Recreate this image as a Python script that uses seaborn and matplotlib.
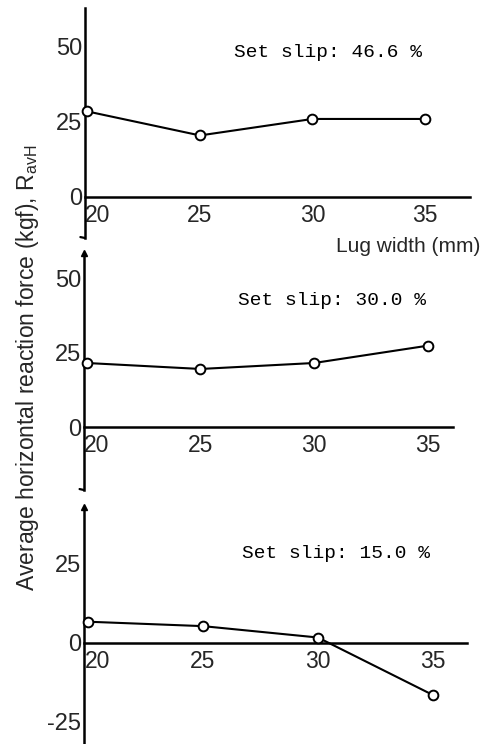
import matplotlib
matplotlib.use("Agg")
import matplotlib.pyplot as plt
import matplotlib.transforms as mtransforms
import seaborn as sns
import pandas as pd

# ---- data ----
lug_width = [20, 25, 30, 35]
force_slip_466 = [28.5, 20.5, 26.0, 26.0]
force_slip_300 = [21.5, 19.5, 21.5, 27.3]
force_slip_150 = [6.7, 5.3, 1.7, -16.5]
slip_labels = ["Set slip: 46.6 %", "Set slip: 30.0 %", "Set slip: 15.0 %"]
x_ticks = [20, 25, 30, 35]
y_ticks_top = [0, 25, 50]
y_ticks_mid = [0, 25, 50]
y_ticks_bot = [-25, 0, 25]

sns.set_style("white")
SANS = ["Liberation Sans", "DejaVu Sans"]
MONO = ["Liberation Mono", "DejaVu Sans Mono"]
plt.rcParams["font.family"] = SANS
plt.rcParams["mathtext.fontset"] = "custom"
plt.rcParams["mathtext.rm"] = "Liberation Sans"

W, H = 484, 744
fig = plt.figure(figsize=(W / 100, H / 100), dpi=100)


def px_axes(left, right, top, bottom):
    return fig.add_axes([left / W, 1 - bottom / H, (right - left) / W, (bottom - top) / H])


panels = [
    dict(box=(85, 470, 8, 238), xlim=(19.89, 37.0), ylim=(-13.7, 63), y=force_slip_466,
         yt=y_ticks_top, label=slip_labels[0], txt=(30.7, 48), arrow=False, brk=True),
    dict(box=(84, 453, 253, 490), xlim=(19.87, 36.12), ylim=(-21.1, 58.4), y=force_slip_300,
         yt=y_ticks_mid, label=slip_labels[1], txt=(30.8, 42.6), arrow=True, brk=True),
    dict(box=(84, 467, 507, 744), xlim=(19.83, 36.48), ylim=(-32, 43), y=force_slip_150,
         yt=y_ticks_bot, label=slip_labels[2], txt=(30.8, 28.2), arrow=True, brk=False),
]

for p in panels:
    ax = px_axes(*p["box"])
    ax.set_facecolor("none")
    df = pd.DataFrame({"Lug width": lug_width, "Force": p["y"]})
    sns.lineplot(data=df, x="Lug width", y="Force", ax=ax, color="black", linewidth=1.5,
                 marker="o", markersize=7, markerfacecolor="white", markeredgecolor="black",
                 markeredgewidth=1.4, zorder=3, clip_on=False)
    ax.set_xlim(*p["xlim"])
    ax.set_ylim(*p["ylim"])
    ax.spines["top"].set_visible(False)
    ax.spines["right"].set_visible(False)
    ax.spines["bottom"].set_position(("data", 0))
    for s in ("left", "bottom"):
        ax.spines[s].set_linewidth(1.8)
        ax.spines[s].set_color("black")
    ax.set_xticks(x_ticks)
    ax.set_xticklabels([str(v) for v in x_ticks])
    ax.set_yticks(p["yt"])
    ax.set_yticklabels([str(v) for v in p["yt"]])
    ax.tick_params(axis="x", direction="in", length=3, width=1.2, pad=5, labelsize=16.5)
    ax.tick_params(axis="y", direction="in", length=3, width=1.2, pad=2, labelsize=17)
    # first x label sits just right of the vertical axis
    first = ax.get_xticklabels()[0]
    first.set_transform(first.get_transform() +
                        mtransforms.ScaledTranslation(10 / 100, 0, fig.dpi_scale_trans))
    ax.set_xlabel("")
    ax.set_ylabel("")
    ax.text(p["txt"][0], p["txt"][1], p["label"], ha="center", va="center",
            family=MONO, fontsize=14, color="black")
    if p["arrow"]:
        ax.plot([0], [1], transform=ax.transAxes, marker="^", markersize=5,
                color="black", clip_on=False)
    if p["brk"]:
        ax.plot([0, -0.012], [0, 0.004], transform=ax.transAxes, color="black",
                linewidth=1.6, clip_on=False)

fig.text(480 / W, 1 - 247 / H, "Lug width (mm)", ha="right", va="center", fontsize=15)
fig.text(28 / W, 1 - 368 / H,
         r"Average horizontal reaction force (kgf), R$_{\mathregular{avH}}$",
         rotation=90, ha="center", va="center", fontsize=16.5)

fig.savefig("out.png", dpi=100)
